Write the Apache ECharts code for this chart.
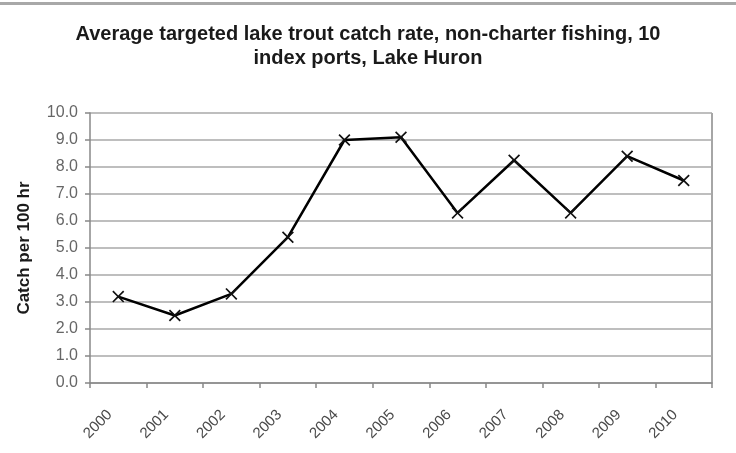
<!DOCTYPE html>
<html><head><meta charset="utf-8">
<script src="https://cdn.jsdelivr.net/npm/echarts@6/dist/echarts.min.js"></script>
<style>html,body{margin:0;padding:0;background:#fff}#c{width:736px;height:453px}</style>
</head><body><div id="c"></div>
<script>
var years = ['2000','2001','2002','2003','2004','2005','2006','2007','2008','2009','2010'];
var catchRate = [3.2, 2.5, 3.3, 5.4, 9.0, 9.1, 6.3, 8.25, 6.3, 8.4, 7.5];
var chart = echarts.init(document.getElementById('c'));
chart.setOption({
  animation: false,
  backgroundColor: '#fff',
  title: {
    text: 'Average targeted lake trout catch rate, non-charter fishing, 10\nindex ports, Lake Huron',
    left: 'center', top: 17,
    textStyle: {fontFamily: 'Liberation Sans', fontWeight: 'bold', fontSize: 20, color: '#1a1a1a', lineHeight: 24}
  },
  graphic: [
    {type: 'rect', left: 0, top: 2, shape: {width: 736, height: 3}, style: {fill: '#a8a8a8'}},
    {type: 'line', shape: {x1: 712, y1: 113, x2: 712, y2: 383}, style: {stroke: '#888', lineWidth: 1.5}}
  ],
  grid: {left: 90, top: 113, right: 24, bottom: 70},
  xAxis: {
    type: 'category', data: years, boundaryGap: true,
    axisLine: {lineStyle: {color: '#888', width: 1.5}},
    axisTick: {show: true, length: 5, lineStyle: {color: '#888', width: 1.5}},
    axisLabel: {rotate: 45, fontFamily: 'Liberation Sans', fontSize: 15, color: '#4a4a4a', margin: 21, padding: [0, 12, 0, 0]}
  },
  yAxis: {
    type: 'value', min: 0, max: 10, interval: 1,
    name: 'Catch per 100 hr', nameLocation: 'middle', nameGap: 57, nameRotate: 90,
    nameTextStyle: {fontFamily: 'Liberation Sans', fontWeight: 'bold', fontSize: 17, color: '#1a1a1a'},
    axisLine: {show: true, lineStyle: {color: '#888', width: 1.5}},
    axisTick: {show: true, length: 5, lineStyle: {color: '#888', width: 1.5}},
    axisLabel: {formatter: function(v){return v.toFixed(1);}, fontFamily: 'Liberation Sans', fontSize: 16, color: '#666', margin: 12},
    splitLine: {show: true, lineStyle: {color: '#a8a8a8', width: 1.5}}
  },
  series: [{
    type: 'line', data: catchRate,
    lineStyle: {color: '#000', width: 2.5},
    symbol: 'path://M0,1L1,0L5,4L9,0L10,1L6,5L10,9L9,10L5,6L1,10L0,9L4,5Z',
    symbolSize: 12,
    itemStyle: {color: '#111'}
  }]
});
</script></body></html>
